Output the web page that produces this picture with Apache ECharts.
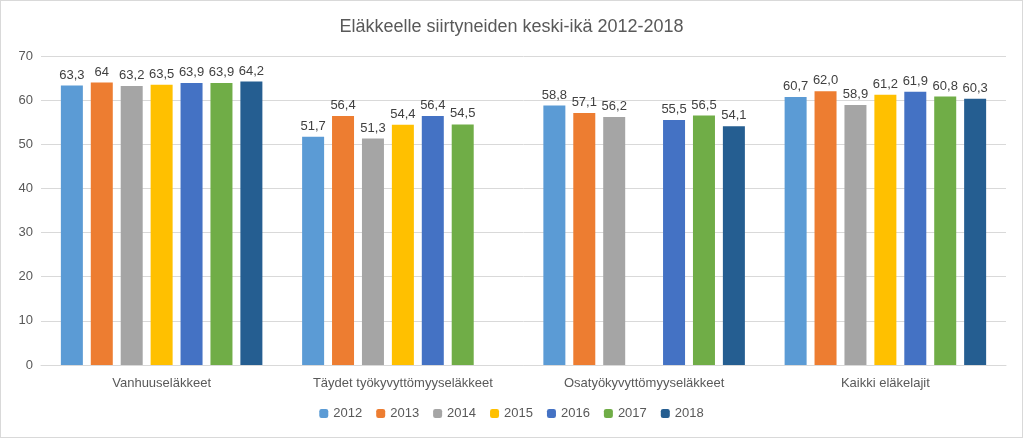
<!DOCTYPE html>
<html><head><meta charset="utf-8">
<script src="https://cdn.jsdelivr.net/npm/echarts@6/dist/echarts.min.js"></script>
<style>html,body{margin:0;padding:0;background:#fff}#c{width:1023px;height:438px;box-sizing:border-box;border:1px solid #d9d9d9}</style>
</head><body><div id="c"></div>
<script>
const categories = ["Vanhuuseläkkeet","Täydet työkyvyttömyyseläkkeet","Osatyökyvyttömyyseläkkeet","Kaikki eläkelajit"];
const years = ["2012","2013","2014","2015","2016","2017","2018"];
const v2012 = ["63,3","51,7","58,8","60,7"];
const v2013 = ["64","56,4","57,1","62,0"];
const v2014 = ["63,2","51,3","56,2","58,9"];
const v2015 = ["63,5","54,4",null,"61,2"];
const v2016 = ["63,9","56,4","55,5","61,9"];
const v2017 = ["63,9","54,5","56,5","60,8"];
const v2018 = ["64,2",null,"54,1","60,3"];
const colors = ["#5B9BD5","#ED7D31","#A5A5A5","#FFC000","#4472C4","#70AD47","#255E91"];
const all = [v2012,v2013,v2014,v2015,v2016,v2017,v2018];
const chart = echarts.init(document.getElementById('c'));
chart.setOption({
  animation:false,
  textStyle:{fontFamily:'Liberation Sans, Arial, sans-serif'},
  title:{text:'Eläkkeelle siirtyneiden keski-ikä 2012-2018',left:'center',top:12,textStyle:{fontSize:18,fontWeight:'normal',color:'#595959'}},
  legend:{bottom:12,itemWidth:9,itemHeight:9,itemGap:14,textStyle:{color:'#595959',fontSize:13},data:years},
  grid:{left:40,right:16,top:55,bottom:72},
  xAxis:{type:'category',data:categories,axisTick:{show:false},axisLine:{lineStyle:{color:'#d9d9d9'}},axisLabel:{color:'#595959',fontSize:13,margin:12}},
  yAxis:{type:'value',min:0,max:70,interval:10,axisLabel:{color:'#595959',fontSize:13},splitLine:{lineStyle:{color:'#d9d9d9'}}},
  series: all.map((arr,i)=>({
    name:years[i],type:'bar',barWidth:22,barGap:'36%',
    itemStyle:{color:colors[i]},
    data:arr.map(s=>s==null?null:{value:parseFloat(s.replace(',','.')),lbl:s}),
    label:{show:true,position:'top',color:'#404040',fontSize:13,distance:4,formatter:p=>p.data?p.data.lbl:''}
  }))
});
</script></body></html>
